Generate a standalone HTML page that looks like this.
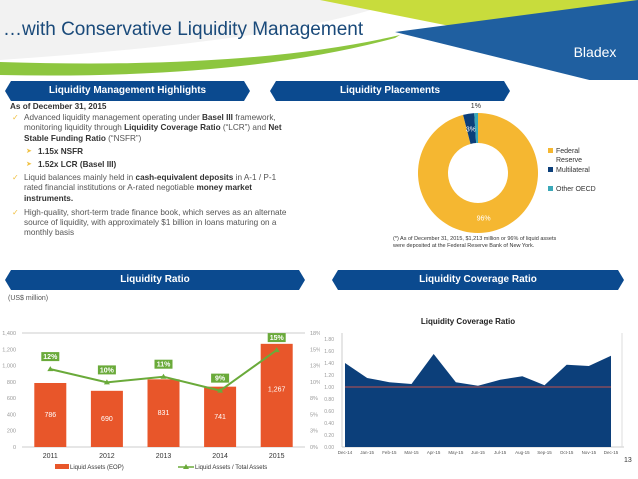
<!DOCTYPE html>
<html><head><meta charset="utf-8"><style>
body{margin:0;width:638px;height:479px;overflow:hidden;background:#fff;font-family:"Liberation Sans",sans-serif;position:relative}
.ban{position:absolute;height:20px;background:#0b4a8f;color:#fff;font-weight:bold;font-size:10px;text-align:center;line-height:20px;clip-path:polygon(6px 0,calc(100% - 6px) 0,100% 50%,calc(100% - 6px) 100%,6px 100%,0 50%)}
.txt{position:absolute;left:10px;top:102px;width:280px;font-size:8.2px;color:#555;line-height:10.2px}
.txt b{color:#333}
.it{position:relative;padding-left:14px;margin-top:1px}
.it:before{content:"\2713";position:absolute;left:2px;color:#f0c040;font-size:8px}
.sub{position:relative;padding-left:28px;margin-top:3px}
.sub:before{content:"\27A4";position:absolute;left:16px;color:#f0c040;font-size:7px}
</style></head><body>
<svg style="position:absolute;left:0;top:0" width="638" height="80">
<rect width="638" height="80" fill="#fff"/>
<path d="M0 0H400Q300 40 0 60Z" fill="#f2f2f2"/>
<path d="M0 62Q250 70 400 35L395 38Q240 80 0 75Z" fill="#8dc63f"/>
<polygon points="320,0 638,0 638,30 470,30" fill="#c8dc3c"/>
<polygon points="395,32 638,0 638,92" fill="#1f5fa0"/>
<text x="595" y="57" font-size="14" fill="#fff" font-family="Liberation Sans" text-anchor="middle">Bladex</text>
</svg>
<div style="position:absolute;left:3px;top:19px;font-size:19px;color:#1a4a7a">…with Conservative Liquidity Management</div>
<div class="ban" style="left:5px;top:81px;width:245px">Liquidity Management Highlights</div>
<div class="ban" style="left:270px;top:81px;width:240px">Liquidity Placements</div>
<div class="ban" style="left:5px;top:270px;width:300px">Liquidity Ratio</div>
<div class="ban" style="left:332px;top:270px;width:292px">Liquidity Coverage Ratio</div>
<div class="txt">
<div style="font-weight:bold;color:#333">As of December 31, 2015</div>
<div class="it">Advanced liquidity management operating under <b>Basel III</b> framework, monitoring liquidity through <b>Liquidity Coverage Ratio</b> (“LCR”) and <b>Net Stable Funding Ratio</b> (“NSFR”)</div>
<div class="sub"><b>1.15x NSFR</b></div>
<div class="sub"><b>1.52x LCR (Basel III)</b></div>
<div class="it" style="margin-top:3px">Liquid balances mainly held in <b>cash-equivalent deposits</b> in A-1 / P-1 rated financial institutions or A-rated negotiable <b>money market instruments.</b></div>
<div class="it" style="margin-top:4px">High-quality, short-term trade finance book, which serves as an alternate source of liquidity, with approximately $1 billion in loans maturing on a monthly basis</div>
</div>
<svg id="donut" style="position:absolute;left:400px;top:100px" width="238" height="150"></svg>
<div style="position:absolute;left:393px;top:236px;font-size:5.5px;color:#333;line-height:7px">(*) As of December 31, 2015, $1,213 million or 96% of liquid assets<br>were deposited at the Federal Reserve Bank of New York.</div>
<div style="position:absolute;left:8px;top:295px;font-size:7px;color:#555">(US$ million)</div>
<svg id="bar" style="position:absolute;left:0;top:300px" width="320" height="179"></svg>
<svg id="lcr" style="position:absolute;left:310px;top:300px" width="328" height="179"></svg>
<div style="position:absolute;left:624px;top:457px;font-size:7px;color:#333">13</div>
<script>
const NS="http://www.w3.org/2000/svg";
function mk(p,t,a,txt){const e=document.createElementNS(NS,t);for(const k in a)e.setAttribute(k,a[k]);if(txt!==undefined)e.textContent=txt;p.appendChild(e);return e;}
const sliceNames=["Federal Reserve","Multilateral","Other OECD"];
const sliceVals=[96,3,1];
const sliceCols=["#f5b731","#0c3f7a","#3aa8b8"];
const dn=document.getElementById('donut');
{let cx=78,cy=73,R=60,r=30,a0=-Math.PI/2,tot=sliceVals.reduce((a,b)=>a+b,0);
sliceVals.forEach((v,i)=>{const a1=a0+v/tot*2*Math.PI,lg=(a1-a0)>Math.PI?1:0;
const p=`M${cx+R*Math.cos(a0)} ${cy+R*Math.sin(a0)}A${R} ${R} 0 ${lg} 1 ${cx+R*Math.cos(a1)} ${cy+R*Math.sin(a1)}L${cx+r*Math.cos(a1)} ${cy+r*Math.sin(a1)}A${r} ${r} 0 ${lg} 0 ${cx+r*Math.cos(a0)} ${cy+r*Math.sin(a0)}Z`;
const s=mk(dn,'path',{d:p,fill:sliceCols[i]});


const am=(a0+a1)/2,lr=i==2?68:45;
const lbl=mk(dn,'text',{x:cx+lr*Math.cos(am),y:cy+lr*Math.sin(am)+3,'font-size':7,fill:i==2?'#333':'#fff','text-anchor':'middle'},v+'%');


a0=a1;});
sliceNames.forEach((n,i)=>{const y=[53,72,91][i];
const g=mk(dn,'g',{});


mk(g,'rect',{x:148,y:y-5,width:5,height:5,fill:sliceCols[i]});
if(i==0){mk(g,'text',{x:156,y:y,'font-size':7,fill:'#333'},'Federal');mk(g,'text',{x:156,y:y+9,'font-size':7,fill:'#333'},'Reserve');}
else mk(g,'text',{x:156,y:y,'font-size':7,fill:'#333'},n);});}
const years=["2011","2012","2013","2014","2015"];
const liquid=[786,690,831,741,1267];
const ratio=[12.3,10.2,11.1,8.9,15.3];
const yTicks=[0,200,400,600,800,1000,1200,1400];
const bs=document.getElementById('bar');
{const y0=147,yt=33,x0=22,x1=305;
const ys=v=>y0-(v/1400)*(y0-yt), yr=v=>y0-(v/18)*(y0-yt);
const bw=(x1-x0)/years.length, xc=i=>x0+bw*(i+0.5);
yTicks.forEach(t=>{mk(bs,'line',{x1:x0,x2:x1,y1:ys(t),y2:ys(t),stroke:t==1400||t==0?'#ccc':'none'});
mk(bs,'text',{x:16,y:ys(t)+2,'font-size':5.5,fill:'#999','text-anchor':'end'},t.toLocaleString('en-US'));
mk(bs,'text',{x:310,y:ys(t)+2,'font-size':5.5,fill:'#999'},Math.round(t/1400*18)+'%');});
years.forEach((y,i)=>{const r=mk(bs,'rect',{x:xc(i)-16,y:ys(liquid[i]),width:32,height:y0-ys(liquid[i]),fill:'#e8562a'});


mk(bs,'text',{x:xc(i),y:(ys(liquid[i])+y0)/2+(i==4?-4:2),'font-size':7,fill:'#fff','text-anchor':'middle'},liquid[i].toLocaleString('en-US'));
mk(bs,'text',{x:xc(i),y:y0+11,'font-size':7,fill:'#333','text-anchor':'middle'},y);});
const ln=mk(bs,'polyline',{points:ratio.map((v,i)=>xc(i)+','+yr(v)).join(' '),fill:'none',stroke:'#6aaa3a','stroke-width':2});


ratio.forEach((v,i)=>{const x=xc(i),y=yr(v);
mk(bs,'polygon',{points:`${x-3},${y+2} ${x+3},${y+2} ${x},${y-3}`,fill:'#6aaa3a'});
const lb=mk(bs,'g',{});


mk(lb,'rect',{x:x-9,y:y-17,width:18,height:9,fill:'#6aaa3a'});
mk(lb,'text',{x:x,y:y-10,'font-size':7,fill:'#fff','text-anchor':'middle','font-weight':'bold'},Math.round(v)+'%');});
mk(bs,'rect',{x:55,y:164,width:14,height:5,fill:'#e8562a'});
mk(bs,'text',{x:70,y:169,'font-size':6,fill:'#333'},'Liquid Assets (EOP)');
mk(bs,'line',{x1:178,x2:194,y1:167,y2:167,stroke:'#6aaa3a','stroke-width':1.5});
mk(bs,'polygon',{points:'183,169 189,169 186,164',fill:'#6aaa3a'});
mk(bs,'text',{x:195,y:169,'font-size':6,fill:'#333'},'Liquid Assets / Total Assets');}
const months=["Dec-14","Jan-15","Feb-15","Mar-15","Apr-15","May-15","Jun-15","Jul-15","Aug-15","Sep-15","Oct-15","Nov-15","Dec-15"];
const lcrVals=[1.40,1.15,1.08,1.05,1.55,1.08,1.02,1.12,1.18,1.03,1.37,1.35,1.52];
const lcrTicks=[0,0.2,0.4,0.6,0.8,1.0,1.2,1.4,1.6,1.8];
const lc=document.getElementById('lcr');
{const y0=147,x0=35,x1=301,ys=v=>y0-v/0.2*12,xs=i=>x0+(x1-x0)*i/(months.length-1);
mk(lc,'text',{x:158,y:24,'font-size':8,'font-weight':'bold',fill:'#222','text-anchor':'middle'},'Liquidity Coverage Ratio');
mk(lc,'line',{x1:x0-3,x2:x0-3,y1:ys(1.9),y2:y0,stroke:'#ccc'});
mk(lc,'line',{x1:x0-3,x2:314,y1:y0,y2:y0,stroke:'#ccc'});
mk(lc,'line',{x1:312,x2:312,y1:ys(1.9),y2:y0,stroke:'#ddd'});
lcrTicks.forEach(t=>mk(lc,'text',{x:24,y:ys(t)+2,'font-size':5,fill:'#999','text-anchor':'end'},t.toFixed(2)));
const ar=mk(lc,'polygon',{points:`${xs(0)},${y0} `+lcrVals.map((v,i)=>xs(i)+','+ys(v)).join(' ')+` ${xs(months.length-1)},${y0}`,fill:'#0c3f7a'});


mk(lc,'line',{x1:xs(0),x2:xs(months.length-1),y1:ys(1),y2:ys(1),stroke:'#c0504d','stroke-width':1});
months.forEach((m,i)=>mk(lc,'text',{x:xs(i),y:y0+7,'font-size':4.5,fill:'#555','text-anchor':'middle'},m));}
</script>
</body></html>
